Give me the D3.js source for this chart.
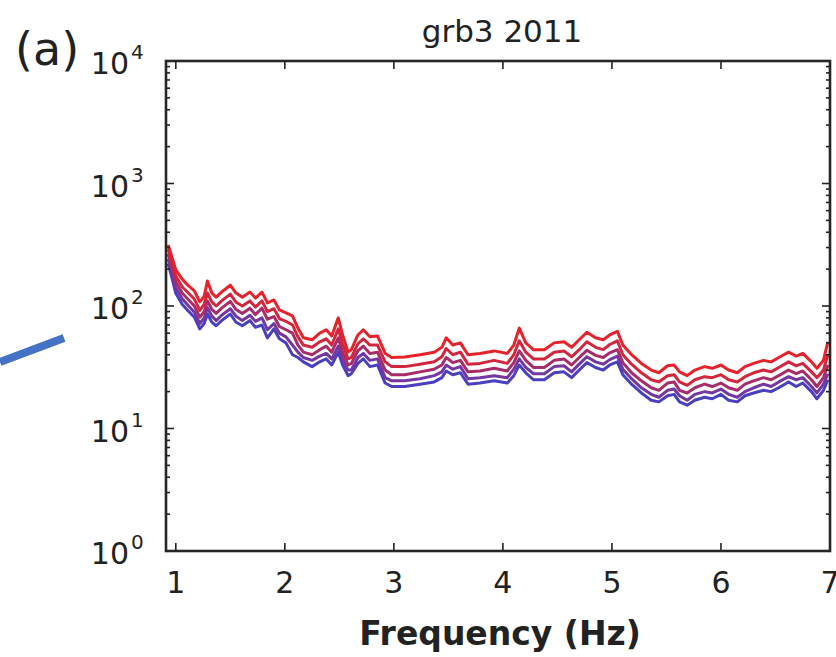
<!DOCTYPE html>
<html>
<head>
<meta charset="utf-8">
<script src="https://cdn.jsdelivr.net/npm/d3@7"></script>
<style>
  body { margin: 0; background: #fff; }
  text { font-family: "DejaVu Sans", sans-serif; fill: #222; }
</style>
</head>
<body>
<div id="chart-area"></div>
<script>
const freqs = [0.93,0.965,1.00,1.06,1.11,1.17,1.22,1.26,1.29,1.33,1.37,1.42,1.50,1.55,1.61,1.68,1.73,1.79,1.84,1.90,
  1.95,2.01,2.07,2.12,2.17,2.25,2.32,2.38,2.43,2.49,2.53,2.58,2.61,2.67,2.72,2.78,2.85,2.92,2.98,3.10,
  3.24,3.37,3.44,3.48,3.54,3.61,3.68,3.79,3.92,4.04,4.10,4.15,4.21,4.28,4.38,4.47,4.56,4.63,4.70,4.77,
  4.85,4.92,4.98,5.05,5.10,5.18,5.27,5.36,5.43,5.51,5.57,5.62,5.69,5.76,5.85,5.92,6.00,6.07,6.15,6.22,
  6.30,6.39,6.46,6.53,6.62,6.69,6.75,6.83,6.88,6.94,6.98];

const series1 = [315,250,197,165,148,133,108,120,160,128,118,130,148,128,118,130,116,130,106,112,
  93,88,83,66,55,53,60,64,57,80,58,42,44,58,64,56,57,41,38,38.3,
  40,42,46,55,48,50,40,41,43,41,48,66,50,44,44,50,51,46,53,61,
  55,53,58,62,48,40,34,30,28.5,32.5,33,29,27,30,32,31,33,30,28.5,32,
  34,36,35,38,42,39,41,35,31,36,51];
const series2 = [292,227,176,143,129,114,92,103,128,108,100,110,125,108,100,110,98,110,90,95,
  79,75,70,56,48,46,51,54,48,65,49,37,38,49,54,48,48,35,32,32,
  33.5,35,38.5,45,40,42,33.5,34,36,34,40,52,42,37,37,42,43,38.5,44,51,
  46,44,48.5,52,40,33.5,28.5,25,24,27,27.5,24,22.5,25,26.5,26,27.5,25,24,26.5,
  28.5,30,29,31.5,35,32.5,34,29,26,30,40];
const series3 = [267,205,158,127,114,100,81,90,110,94,87,96,109,94,87,96,85,96,78,82,
  68,64,60,48,42,40,44,47,42,55,42,33,34,43,47,41,42,30,27.5,27.5,
  29,30.5,33,38,34.5,36,29,29.5,31,29.5,34.5,43,36,31.5,31.5,36,37,33,38,43.5,
  39.5,38,41.5,44,34.5,28.5,24.5,21.5,20.5,23.5,24,20.5,19.5,21.5,23,22,23.5,21.5,20.5,23,
  24.5,26,25,27,30,28,29.5,25,22,26,33];
const series4 = [242,185,141,114,102,89,72,80,97,83,76,84,95,83,76,84,75,80,64,72,
  60,56,48,42,38,36,39,41,37,47,37,30,30,38,41,36,37,26,24.5,24.5,
  25.5,27,29,33,30.5,32,25.5,26,27,26,30.5,37,31.5,28,28,32,32.5,29,33.5,38.5,
  35,33.5,36.5,39,30.5,25.5,21.5,19,18,20.5,21,18.5,17,19,20,19.5,21,19,18,20,
  21.5,23,22,24,26.5,25,26,22,19.5,23,28];
const series5 = [222,169,127,103,92,81,65,72,86,74,69,76,86,74,69,76,67,70,55,65,
  54,50,40,38,35,32,35,37,33,42,33,27,28,34,37,32,33,23.5,22,22,
  23,24,26,29.5,27.5,28.5,23,23.5,24.5,23.5,27,33,28.5,25,25,28.5,29,26,30,34.5,
  31.5,30,33,35,27.5,23,19.5,17,16.5,18.5,19,16.5,15.5,17,18,17.5,19,17,16.5,18.5,
  19.5,20.5,20,21.5,24,22,23.5,20,17.5,20.5,25];

const seriesList = [series5, series4, series3, series2, series1];
const seriesColors = ["#4a3fbf", "#7436a0", "#a82c68", "#d2263e", "#e8222a"];

const xTicks = [1, 2, 3, 4, 5, 6, 7];
const yTicks = [0, 1, 2, 3, 4];

const canvasWidth = 836;
const canvasHeight = 657;
const plot = {left: 166, top: 61, right: 830, bottom: 551};

const canvas = d3.select("#chart-area").append("svg")
  .attr("width", canvasWidth)
  .attr("height", canvasHeight);

const xScale = d3.scaleLinear().domain([0.91, 7]).range([plot.left, plot.right]);
const yScale = d3.scaleLog().domain([1, 10000]).range([plot.bottom, plot.top]);

canvas.append("defs").append("clipPath").attr("id", "clip")
  .append("rect")
  .attr("x", plot.left).attr("y", plot.top)
  .attr("width", plot.right - plot.left).attr("height", plot.bottom - plot.top);

// spectra
const line = d3.line()
  .x((d, i) => xScale(freqs[i]))
  .y(d => yScale(d))
  .curve(d3.curveLinear);

canvas.append("g").attr("clip-path", "url(#clip)")
  .selectAll("path")
  .data(seriesList)
  .enter()
  .append("path")
  .attr("d", d => line(d))
  .attr("fill", "none")
  .attr("stroke", (d, i) => seriesColors[i])
  .attr("stroke-width", 3)
  .attr("stroke-linejoin", "round");

// ticks, drawn inward on all four sides
const tickGroup = canvas.append("g").attr("stroke", "#222").attr("stroke-width", 1.6);

xTicks.forEach(t => {
  const x = xScale(t);
  tickGroup.append("line").attr("x1", x).attr("x2", x).attr("y1", plot.bottom).attr("y2", plot.bottom - 8);
  tickGroup.append("line").attr("x1", x).attr("x2", x).attr("y1", plot.top).attr("y2", plot.top + 8);
});

yTicks.forEach(p => {
  const y = yScale(Math.pow(10, p));
  tickGroup.append("line").attr("x1", plot.left).attr("x2", plot.left + 8).attr("y1", y).attr("y2", y);
  tickGroup.append("line").attr("x1", plot.right).attr("x2", plot.right - 8).attr("y1", y).attr("y2", y);
  if (p < 4) {
    for (let m = 2; m <= 9; m++) {
      const ym = yScale(m * Math.pow(10, p));
      tickGroup.append("line").attr("x1", plot.left).attr("x2", plot.left + 4).attr("y1", ym).attr("y2", ym);
      tickGroup.append("line").attr("x1", plot.right).attr("x2", plot.right - 4).attr("y1", ym).attr("y2", ym);
    }
  }
});

// frame
canvas.append("rect")
  .attr("x", plot.left).attr("y", plot.top)
  .attr("width", plot.right - plot.left).attr("height", plot.bottom - plot.top)
  .attr("fill", "none")
  .attr("stroke", "#262626")
  .attr("stroke-width", 2.6);

// tick labels
canvas.append("g").selectAll("text")
  .data(xTicks)
  .enter()
  .append("text")
  .attr("x", d => xScale(d))
  .attr("y", 593)
  .attr("text-anchor", "middle")
  .attr("font-size", "30px")
  .text(d => d);

const yLabels = canvas.append("g");
yTicks.forEach(p => {
  const y = yScale(Math.pow(10, p));
  yLabels.append("text")
    .attr("x", 129).attr("y", y + 13)
    .attr("text-anchor", "end")
    .attr("font-size", "30px")
    .text("10");
  yLabels.append("text")
    .attr("x", 131).attr("y", y - 2)
    .attr("font-size", "20px")
    .text(p);
});

// title and axis label
canvas.append("text")
  .attr("x", 502).attr("y", 42)
  .attr("text-anchor", "middle")
  .attr("font-size", "31px")
  .text("grb3 2011");

canvas.append("text")
  .attr("x", 500).attr("y", 645)
  .attr("text-anchor", "middle")
  .attr("font-size", "33px")
  .attr("font-weight", "bold")
  .text("Frequency (Hz)");

canvas.append("text")
  .attr("x", 15).attr("y", 65)
  .attr("font-size", "46px")
  .text("(a)");

// blue pointer stroke on the left
canvas.append("line")
  .attr("x1", 0).attr("y1", 362)
  .attr("x2", 64).attr("y2", 338)
  .attr("stroke", "#4472c4")
  .attr("stroke-width", 8);
</script>
</body>
</html>
